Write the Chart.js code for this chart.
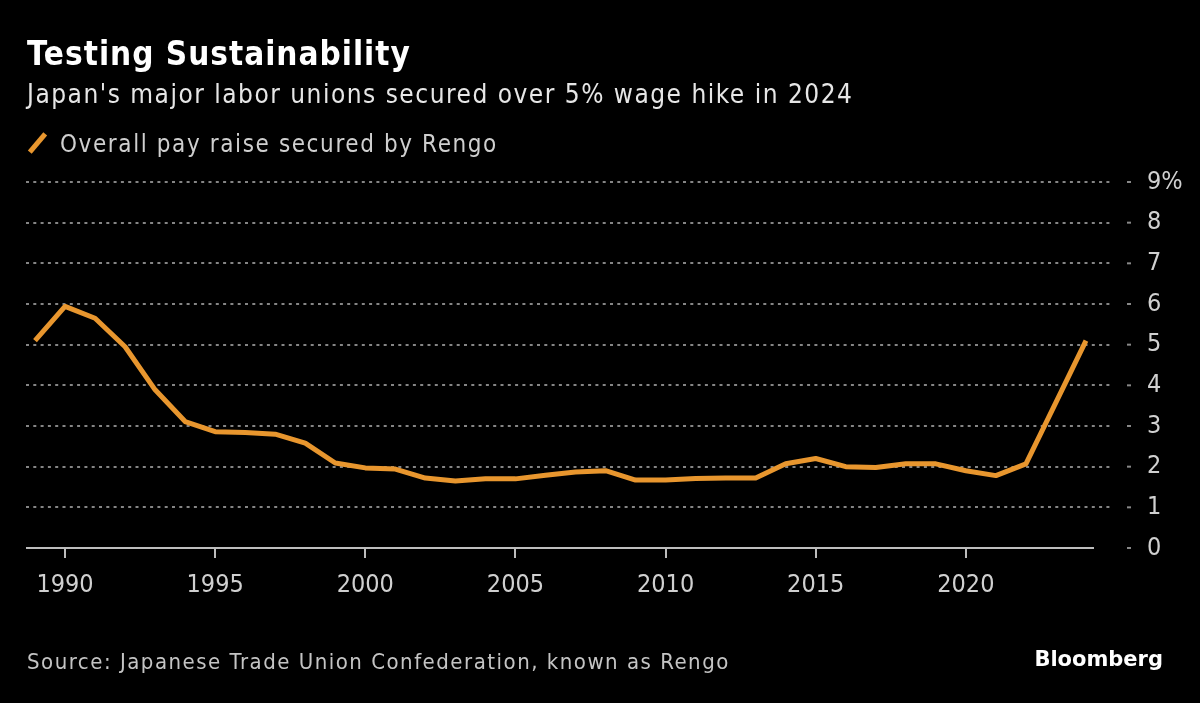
<!DOCTYPE html>
<html>
<head>
<meta charset="utf-8">
<script src="https://cdn.jsdelivr.net/npm/chart.js@4"></script>
<style>
  body { margin: 0; background: #000; font-family: "DejaVu Sans Condensed", "DejaVu Sans", sans-serif; }
  #wrap { position: relative; width: 1200px; height: 703px; overflow: hidden; }
  canvas { position: absolute; left: 0; top: 0; }
  .txt { position: absolute; white-space: nowrap; }
  #title { left: 27px; top: 34px; font-size: 33px; font-weight: bold; color: #fff; letter-spacing: 1px; }
  #subtitle { left: 27px; top: 79px; font-size: 26px; color: #e6e6e6; letter-spacing: 1.5px; }
  #legend { left: 27px; top: 130px; font-size: 24px; color: #cfcfcf; letter-spacing: 1.6px; }
  #legend .sw { display: inline-block; width: 5px; height: 24px; background: #e8962e; transform: rotate(40deg); vertical-align: -3px; margin: 0 20px 0 8px; }
  #source { left: 27px; top: 649px; font-size: 22px; color: #c4c4c4; letter-spacing: 1.5px; }
  #brand { right: 37px; top: 647px; font-family: "DejaVu Sans", sans-serif; font-size: 21px; font-weight: bold; color: #fff; }
</style>
</head>
<body>
<div id="wrap">
  <canvas id="myChart" width="1200" height="703"></canvas>
  <div class="txt" id="title">Testing Sustainability</div>
  <div class="txt" id="subtitle">Japan's major labor unions secured over 5% wage hike in 2024</div>
  <div class="txt" id="legend"><span class="sw"></span>Overall pay raise secured by Rengo</div>
  <div class="txt" id="source">Source: Japanese Trade Union Confederation, known as Rengo</div>
  <div class="txt" id="brand">Bloomberg</div>
</div>
<script>
const years = [1989, 1990, 1991, 1992, 1993, 1994, 1995, 1996, 1997, 1998, 1999,
  2000, 2001, 2002, 2003, 2004, 2005, 2006, 2007, 2008, 2009,
  2010, 2011, 2012, 2013, 2014, 2015, 2016, 2017, 2018, 2019,
  2020, 2021, 2022, 2023, 2024]
const payRaise = [5.10, 5.94, 5.65, 4.95, 3.89, 3.11, 2.86, 2.84, 2.80, 2.58, 2.09,
  1.97, 1.94, 1.72, 1.65, 1.70, 1.70, 1.79, 1.87, 1.90, 1.67,
  1.67, 1.71, 1.72, 1.72, 2.07, 2.20, 2.00, 1.98, 2.07, 2.07,
  1.90, 1.78, 2.07, 3.58, 5.10]
const yTicks = [0, 1, 2, 3, 4, 5, 6, 7, 8, 9]
const xTickStep = 5

const lineColor = "#e8962e"
const axisFont = { family: "'DejaVu Sans Condensed', 'DejaVu Sans', sans-serif", size: 25 }

// solid zero line and the little dashes next to the y labels
const extras = {
  id: "extras",
  afterDatasetsDraw(chart) {
    const { ctx, chartArea, scales } = chart
    const y0 = scales.y.getPixelForValue(0)
    ctx.save()
    ctx.strokeStyle = "#bdbdbd"
    ctx.lineWidth = 2
    ctx.beginPath()
    ctx.moveTo(chartArea.left, y0)
    ctx.lineTo(chartArea.right - 17, y0)
    ctx.stroke()
    ctx.strokeStyle = "#888"
    ctx.lineWidth = 2
    yTicks.forEach(v => {
      const py = scales.y.getPixelForValue(v)
      ctx.beginPath()
      ctx.moveTo(chartArea.right + 16, py)
      ctx.lineTo(chartArea.right + 20, py)
      ctx.stroke()
    })
    ctx.restore()
  }
}

const ctx = document.getElementById("myChart").getContext("2d")
new Chart(ctx, {
  type: "line",
  data: {
    datasets: [{
      label: "Overall pay raise secured by Rengo",
      data: years.map((yr, i) => ({ x: yr, y: payRaise[i] })),
      borderColor: lineColor,
      borderWidth: 5,
      borderJoinStyle: "round",
      pointRadius: 0,
      tension: 0,
      clip: false
    }]
  },
  options: {
    responsive: false,
    animation: false,
    layout: { padding: { top: 182, left: 26, right: 0, bottom: 90 } },
    plugins: { legend: { display: false }, tooltip: { enabled: false } },
    scales: {
      x: {
        type: "linear",
        min: 1988.7,
        max: 2024.833,
        afterFit: s => { s.height = 65 },
        border: { display: false },
        grid: { drawOnChartArea: false, drawTicks: true, tickLength: 10, color: "#bdbdbd", lineWidth: 2 },
        ticks: {
          stepSize: xTickStep,
          includeBounds: false,
          color: "#d0d0d0",
          font: axisFont,
          padding: 12,
          maxRotation: 0,
          callback: v => String(v)
        }
      },
      y: {
        position: "right",
        min: 0,
        max: 9,
        afterFit: s => { s.width = 89 },
        afterBuildTicks: s => { s.ticks = yTicks.map(v => ({ value: v })) },
        border: { display: false, dash: [3, 4.3] },
        grid: {
          drawTicks: false,
          color: c => c.tick && c.tick.value === 0 ? "rgba(0,0,0,0)" : "#858585",
          lineWidth: 2
        },
        ticks: {
          color: "#d0d0d0",
          font: axisFont,
          padding: 36,
          callback: v => v === 9 ? "9%" : String(v)
        }
      }
    }
  },
  plugins: [extras]
})
</script>
</body>
</html>
